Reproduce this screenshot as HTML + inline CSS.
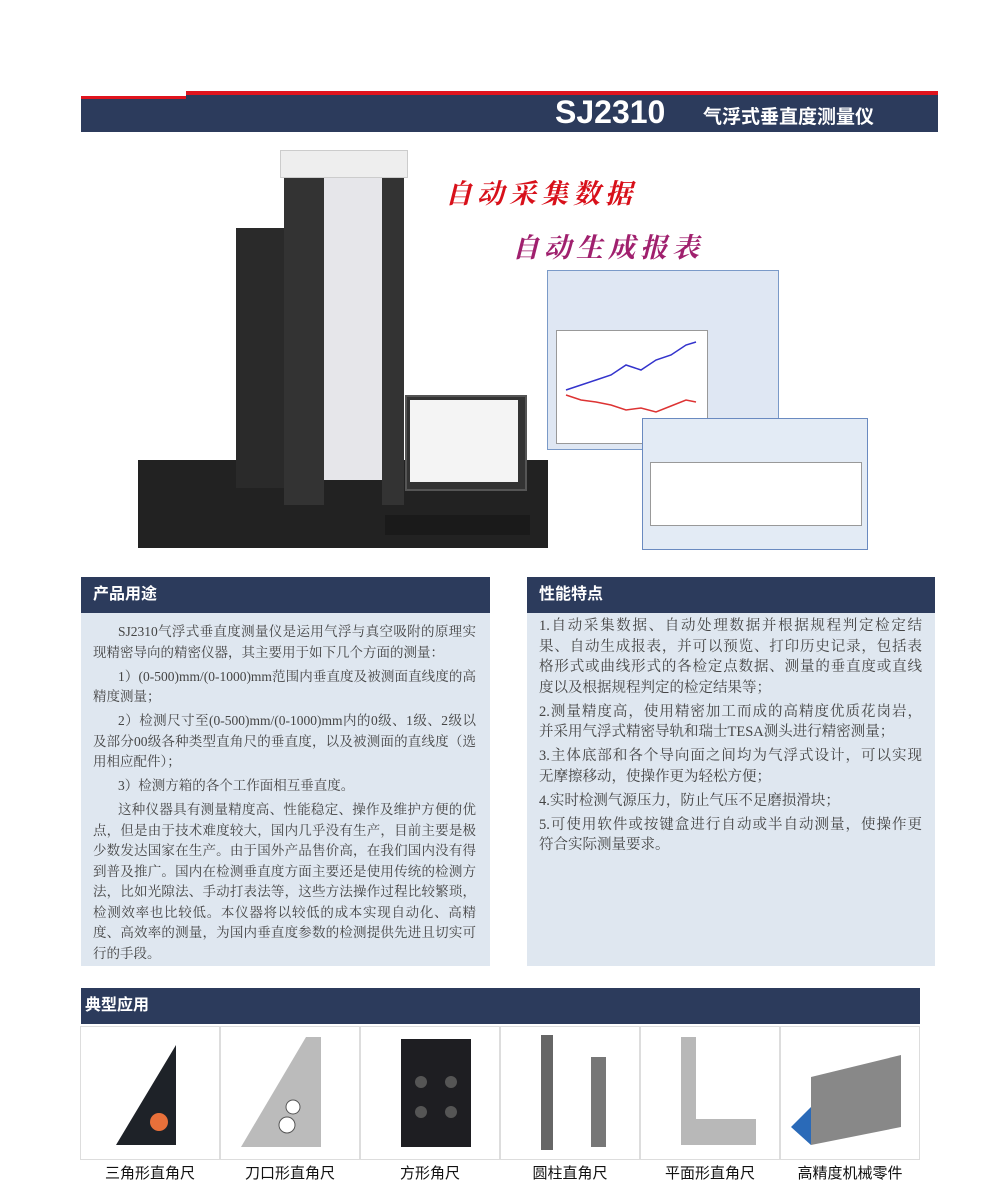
<!DOCTYPE html><html><head><meta charset="utf-8"><style>
body{margin:0;width:1000px;height:1193px;background:#fff;position:relative;overflow:hidden;font-family:"Liberation Serif","Noto Serif CJK SC",serif}
.a{position:absolute}
.nav{background:#2c3b5c;color:#fff;font-family:"Liberation Sans","Noto Sans CJK SC",sans-serif;font-weight:bold}
.pb{background:#dfe7f0;color:#444;font-size:13.5px;line-height:20.5px}
.pb p{margin:0 0 3.5px 0}
.pb span{display:block;white-space:nowrap}
.j{text-align:justify;text-align-last:justify}
.i{padding-left:25px}
.cell{position:absolute;top:1026px;width:138px;height:132px;border:1px solid #ddd;background:#fff}
.lab{position:absolute;top:1162px;width:140px;text-align:center;font-family:"Liberation Sans","Noto Sans CJK SC",sans-serif;font-size:15px;color:#111}
</style></head><body>
<div class="a" style="left:81px;top:96px;width:105px;height:4px;background:#e0141e"></div>
<div class="a" style="left:186px;top:91px;width:752px;height:4px;background:#e0141e"></div>
<div class="a nav" style="left:81px;top:99px;width:857px;height:33px"></div>
<div class="a nav" style="left:186px;top:95px;width:752px;height:5px"></div>
<div class="a" style="left:555px;top:94px;color:#fff;font:bold 32px 'Liberation Sans',sans-serif">SJ2310</div>
<div class="a" style="left:703px;top:102px;color:#fff;font:bold 19px 'Noto Sans CJK SC',sans-serif">气浮式垂直度测量仪</div>
<div class="a" style="left:138px;top:460px;width:410px;height:88px;background:#222"></div>
<div class="a" style="left:236px;top:228px;width:60px;height:260px;background:#2a2a2a"></div>
<div class="a" style="left:284px;top:175px;width:40px;height:330px;background:#333"></div>
<div class="a" style="left:324px;top:175px;width:58px;height:305px;background:#e6e6ea"></div>
<div class="a" style="left:382px;top:175px;width:22px;height:330px;background:#333"></div>
<div class="a" style="left:280px;top:150px;width:126px;height:26px;background:#eee;border:1px solid #ccc"></div>
<div class="a" style="left:405px;top:395px;width:118px;height:92px;background:#333;border:2px solid #555"></div>
<div class="a" style="left:410px;top:400px;width:108px;height:82px;background:#f4f4f4"></div>
<div class="a" style="left:385px;top:515px;width:145px;height:20px;background:#1a1a1a"></div>
<div class="a" style="left:445px;top:172px;color:#d8101a;font:italic bold 27px 'Noto Serif CJK SC',serif;letter-spacing:5px">自动采集数据</div>
<div class="a" style="left:512px;top:226px;color:#a0206e;font:italic bold 27px 'Noto Serif CJK SC',serif;letter-spacing:5px">自动生成报表</div>
<div class="a" style="left:547px;top:270px;width:230px;height:178px;background:#dfe7f3;border:1px solid #7a9ac8"></div>
<div class="a" style="left:556px;top:330px;width:150px;height:112px;background:#fff;border:1px solid #999"></div>
<svg class="a" style="left:556px;top:330px" width="150" height="112"><polyline points="10,60 25,55 40,50 55,45 70,35 85,40 100,30 115,25 130,15 140,12" fill="none" stroke="#33c" stroke-width="1.5"/><polyline points="10,65 25,70 40,72 55,75 70,80 85,78 100,82 115,76 130,70 140,72" fill="none" stroke="#d33" stroke-width="1.5"/></svg>
<div class="a" style="left:642px;top:418px;width:224px;height:130px;background:#e3ebf5;border:1px solid #6a8ac0"></div>
<div class="a" style="left:650px;top:462px;width:210px;height:62px;background:#fff;border:1px solid #999"></div>
<div class="a nav" style="left:81px;top:577px;width:409px;height:36px;font-size:16px;line-height:36px;padding-left:12px;box-sizing:border-box">产品用途</div>
<div class="a pb" style="left:81px;top:613px;width:409px;height:353px;padding:9px 14px 0 12px;box-sizing:border-box">
<p><span class="j i">SJ2310气浮式垂直度测量仪是运用气浮与真空吸附的原理实</span><span>现精密导向的精密仪器，其主要用于如下几个方面的测量：</span></p>
<p><span class="j i">1）(0-500)mm/(0-1000)mm范围内垂直度及被测面直线度的高</span><span>精度测量；</span></p>
<p><span class="j i">2）检测尺寸至(0-500)mm/(0-1000)mm内的0级、1级、2级以</span><span class="j">及部分00级各种类型直角尺的垂直度，以及被测面的直线度（选</span><span>用相应配件）；</span></p>
<p><span class="i">3）检测方箱的各个工作面相互垂直度。</span></p>
<p><span class="j i">这种仪器具有测量精度高、性能稳定、操作及维护方便的优</span><span class="j">点，但是由于技术难度较大，国内几乎没有生产，目前主要是极</span><span class="j">少数发达国家在生产。由于国外产品售价高，在我们国内没有得</span><span class="j">到普及推广。国内在检测垂直度方面主要还是使用传统的检测方</span><span class="j">法，比如光隙法、手动打表法等，这些方法操作过程比较繁琐，</span><span class="j">检测效率也比较低。本仪器将以较低的成本实现自动化、高精</span><span class="j">度、高效率的测量，为国内垂直度参数的检测提供先进且切实可</span><span>行的手段。</span></p>
</div>
<div class="a nav" style="left:527px;top:577px;width:408px;height:36px;font-size:16px;line-height:36px;padding-left:12px;box-sizing:border-box">性能特点</div>
<div class="a pb" style="left:527px;top:613px;width:408px;height:353px;padding:3px 13px 0 12px;box-sizing:border-box;font-size:14.5px;line-height:20.5px">
<p><span class="j">1.自动采集数据、自动处理数据并根据规程判定检定结</span><span class="j">果、自动生成报表，并可以预览、打印历史记录，包括表</span><span class="j">格形式或曲线形式的各检定点数据、测量的垂直度或直线</span><span>度以及根据规程判定的检定结果等；</span></p>
<p><span class="j">2.测量精度高，使用精密加工而成的高精度优质花岗岩，</span><span>并采用气浮式精密导轨和瑞士TESA测头进行精密测量；</span></p>
<p><span class="j">3.主体底部和各个导向面之间均为气浮式设计，可以实现</span><span>无摩擦移动，使操作更为轻松方便；</span></p>
<p><span>4.实时检测气源压力，防止气压不足磨损滑块；</span></p>
<p><span class="j">5.可使用软件或按键盒进行自动或半自动测量，使操作更</span><span>符合实际测量要求。</span></p>
</div>
<div class="a nav" style="left:81px;top:988px;width:839px;height:36px;font-size:16px;line-height:36px;padding-left:4px;box-sizing:border-box">典型应用</div>
<div class="cell" style="left:80px"><svg width="138" height="132"><polygon points="35,118 95,18 95,118" fill="#1e2228"/><circle cx="78" cy="95" r="9" fill="#e8703a"/></svg></div>
<div class="cell" style="left:220px"><svg width="138" height="132"><polygon points="20,120 85,10 100,10 100,120" fill="#bbb"/><circle cx="72" cy="80" r="7" fill="#fff" stroke="#555"/><circle cx="66" cy="98" r="8" fill="#fff" stroke="#555"/></svg></div>
<div class="cell" style="left:360px"><svg width="138" height="132"><rect x="40" y="12" width="70" height="108" fill="#1e1e22"/><circle cx="60" cy="55" r="6" fill="#555"/><circle cx="90" cy="55" r="6" fill="#555"/><circle cx="60" cy="85" r="6" fill="#555"/><circle cx="90" cy="85" r="6" fill="#555"/></svg></div>
<div class="cell" style="left:500px"><svg width="138" height="132"><rect x="40" y="8" width="12" height="115" fill="#666"/><rect x="90" y="30" width="15" height="90" fill="#777"/></svg></div>
<div class="cell" style="left:640px"><svg width="138" height="132"><polygon points="40,10 55,10 55,92 115,92 115,118 40,118" fill="#b8b8b8"/></svg></div>
<div class="cell" style="left:780px"><svg width="138" height="132"><polygon points="30,50 120,28 120,100 30,118" fill="#888"/><polygon points="10,100 30,80 30,118" fill="#2a6ab8"/></svg></div>
<div class="lab" style="left:80px">三角形直角尺</div>
<div class="lab" style="left:220px">刀口形直角尺</div>
<div class="lab" style="left:360px">方形角尺</div>
<div class="lab" style="left:500px">圆柱直角尺</div>
<div class="lab" style="left:640px">平面形直角尺</div>
<div class="lab" style="left:780px">高精度机械零件</div>
</body></html>
